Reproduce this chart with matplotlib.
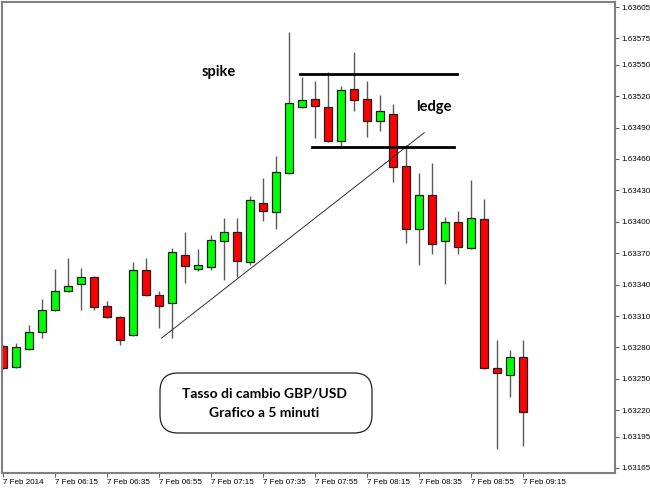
#GBP/USD 5 minute candlestick chart with spike / ledge annotations

import matplotlib
matplotlib.use('Agg')
import matplotlib.pyplot as plt
import numpy as np
from matplotlib.patches import FancyBboxPatch
from matplotlib.transforms import IdentityTransform

#candle data (open, high, low, close), one per 5 minutes
opens = [1.63281, 1.63261, 1.63279, 1.63295, 1.63316, 1.63334, 1.63341, 1.63347,
         1.63320, 1.63309, 1.63292, 1.63354, 1.63330, 1.63322, 1.63368, 1.63355,
         1.63357, 1.63382, 1.63390, 1.63362, 1.63418, 1.63409, 1.63447, 1.63510,
         1.63517, 1.63510, 1.63477, 1.63527, 1.63517, 1.63496, 1.63503, 1.63453,
         1.63393, 1.63426, 1.63382, 1.63400, 1.63375, 1.63403, 1.63260, 1.63254,
         1.63271]
highs = [1.63282, 1.63284, 1.63301, 1.63326, 1.63355, 1.63365, 1.63356, 1.63348,
         1.63324, 1.63310, 1.63362, 1.63365, 1.63334, 1.63375, 1.63390, 1.63374,
         1.63387, 1.63404, 1.63404, 1.63425, 1.63442, 1.63463, 1.63581, 1.63538,
         1.63534, 1.63543, 1.63530, 1.63562, 1.63534, 1.63521, 1.63512, 1.63473,
         1.63447, 1.63456, 1.63405, 1.63410, 1.63440, 1.63422, 1.63287, 1.63278,
         1.63287]
lows = [1.63259, 1.63260, 1.63278, 1.63289, 1.63315, 1.63333, 1.63316, 1.63316,
        1.63308, 1.63282, 1.63291, 1.63329, 1.63299, 1.63289, 1.63342, 1.63353,
        1.63354, 1.63344, 1.63347, 1.63359, 1.63401, 1.63393, 1.63446, 1.63509,
        1.63480, 1.63476, 1.63471, 1.63506, 1.63481, 1.63487, 1.63438, 1.63380,
        1.63359, 1.63369, 1.63341, 1.63369, 1.63374, 1.63259, 1.63183, 1.63233,
        1.63186]
closes = [1.63260, 1.63280, 1.63295, 1.63316, 1.63334, 1.63339, 1.63347, 1.63319,
          1.63309, 1.63287, 1.63354, 1.63330, 1.63320, 1.63371, 1.63358, 1.63359,
          1.63383, 1.63390, 1.63363, 1.63421, 1.63410, 1.63448, 1.63513, 1.63516,
          1.63511, 1.63477, 1.63526, 1.63516, 1.63496, 1.63506, 1.63452, 1.63393,
          1.63426, 1.63379, 1.63400, 1.63376, 1.63404, 1.63260, 1.63256, 1.63271,
          1.63218]

#axis labels
x_tick_idx = [0, 4, 8, 12, 16, 20, 24, 28, 32, 36, 40]
x_tick_labels = ['7 Feb 2014', '7 Feb 06:15', '7 Feb 06:35', '7 Feb 06:55',
                 '7 Feb 07:15', '7 Feb 07:35', '7 Feb 07:55', '7 Feb 08:15',
                 '7 Feb 08:35', '7 Feb 08:55', '7 Feb 09:15']
y_ticks = [1.63165, 1.63195, 1.63220, 1.63250, 1.63280, 1.63310, 1.63340, 1.63370,
           1.63400, 1.63430, 1.63460, 1.63490, 1.63520, 1.63550, 1.63575, 1.63605]

o = np.array(opens)
h = np.array(highs)
l = np.array(lows)
c = np.array(closes)
x = np.arange(len(o))

fig = plt.figure(figsize=(6.5, 4.88), dpi=100)
ax = fig.add_axes([2/650, 15/488, 613/650, 471/488])

#wicks then bodies
ax.vlines(x, l, h, color='#5a5a5a', linewidth=1.0, zorder=1)
up = c >= o
colors = np.where(up, '#00ff00', '#ff0000')
ax.bar(x, np.abs(c - o), bottom=np.minimum(o, c), width=0.68,
       color=colors, edgecolor='#202020', linewidth=0.9, zorder=2)

#trend line and ledge lines
ax.plot([12.2, 32.4], [1.63289, 1.63485], color='#303030', linewidth=0.7, zorder=3)
ax.plot([22.85, 34.9], [1.63541, 1.63541], color='black', linewidth=2.0, zorder=3)
ax.plot([23.75, 34.7], [1.63471, 1.63471], color='black', linewidth=2.0, zorder=3)

ax.text(16.6, 1.63543, 'spike', fontsize=10.5, fontweight='bold', family='Lato',
        ha='center', va='center')
ax.text(33.15, 1.63510, 'ledge', fontsize=10.5, fontweight='bold', family='Lato',
        ha='center', va='center')

#rounded title box (pixel coords)
box = FancyBboxPatch((160, 55), 212, 60, boxstyle='round,pad=0,rounding_size=18',
                     transform=IdentityTransform(), facecolor='white',
                     edgecolor='#202020', linewidth=0.9, zorder=4)
ax.add_patch(box)
fig.text(264/650, (488-394)/488, 'Tasso di cambio GBP/USD', fontsize=10,
         fontweight='bold', family='Lato', ha='center', va='center', zorder=5)
fig.text(264/650, (488-413)/488, 'Grafico a 5 minuti', fontsize=10,
         fontweight='bold', family='Lato', ha='center', va='center', zorder=5)

ax.set_xlim(-0.08, 47.08)
ax.set_ylim(1.631602, 1.636098)

ax.set_xticks(x_tick_idx)
ax.set_xticklabels(x_tick_labels, ha='left', fontsize=5.8, family='Liberation Sans')
ax.yaxis.tick_right()
ax.set_yticks(y_ticks)
ax.set_yticklabels(['%.5f' % v for v in y_ticks], fontsize=5.8, family='Liberation Sans')
ax.tick_params(axis='both', length=3, width=0.8, color='#606060', pad=1.5)

for s in ax.spines.values():
    s.set_color('#808080')
    s.set_linewidth(1.5)

fig.savefig('out.png', dpi=100)
